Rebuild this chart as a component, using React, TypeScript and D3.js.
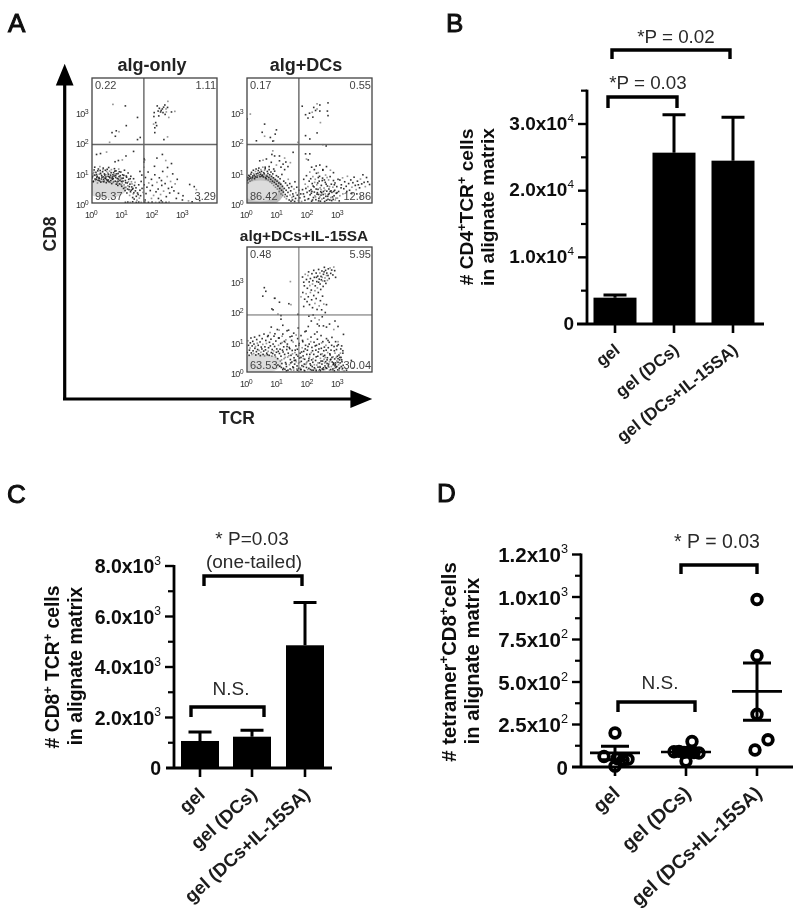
import React from "react";
import * as d3 from "d3";

const FONT = "'Liberation Sans', Arial, sans-serif";

// ---------- Panel A: flow plots, values are log10(fluorescence) x 100, as flat x,y lists ----------
const algOnlyEvents = [
  69,325,110,320,150,282,113,255,89,235,80,238,66,232,77,220,58,200,150,209,159,216,
  215,320,250,335,240,323,226,300,234,298,245,300,218,303,205,298,262,300,273,302,249,315,232,310,241,292,253,282,220,287,204,285,210,265,203,260,207,248,213,255,207,232,249,218,237,209,228,305,236,316,244,310,222,312,
  15,160,28,163,48,168,137,170,112,155,87,140,100,142,76,136,172,146,171,135,
  3,97,1,83,7,109,5,72,11,91,9,118,14,78,13,101,18,66,17,88,21,112,20,75,24,95,23,84,27,107,29,69,26,120,32,90,31,79,35,103,34,71,38,86,37,115,41,96,40,74,44,108,43,82,47,67,46,93,50,111,49,77,53,88,52,99,56,70,55,117,59,83,58,105,62,74,61,92,65,64,64,110,68,86,67,78,71,100,70,68,74,113,73,89,77,72,76,95,80,62,79,106,83,81,82,70,86,97,85,58,89,87,88,112,92,74,91,63,95,102,94,84,98,55,97,71,101,93,100,66,104,48,103,82,107,108,106,60,110,74,109,41,113,89,112,52,116,66,115,33,119,99,118,57,122,44,121,78,125,62,124,25,128,88,127,37,131,53,130,70,134,18,133,45,137,80,136,30,140,58,139,13,143,40,142,68,146,22,145,50,150,33,148,9,154,60,152,28,158,42,156,16,162,71,160,24,165,48,168,35,164,92,158,104,
  2,88,6,101,10,79,15,94,19,106,22,82,25,73,28,98,33,85,36,110,39,70,42,92,45,80,48,104,51,73,54,95,57,86,60,68,63,100,66,82,69,93,72,71,75,105,78,84,81,96,84,66,87,79,90,103,93,90,96,60,99,81,102,72,105,91,108,51,111,67,114,85,117,46,120,70,123,54,126,80,129,42,132,63,135,48,138,34,
  4,70,12,74,8,92,16,84,24,80,30,94,38,78,46,86,54,76,62,88,70,80,78,90,86,72,94,78,
  176,84,181,52,178,31,187,66,192,41,185,102,196,78,203,25,199,58,207,93,211,37,214,68,218,46,206,121,222,83,226,28,219,15,230,58,233,104,236,39,229,74,241,64,245,21,248,87,252,48,249,117,256,33,259,71,263,52,266,96,270,40,274,63,278,15,281,78,285,32,243,140,232,160,214,148,262,130,171,118,173,142,172,60,175,10,196,15,228,8,300,24,298,10,318,7,330,4,337,54,322,61,344,44,355,8,
  110,2,118,3,126,2,134,4,146,2,154,3,162,2,174,3,186,2,198,3,210,2,222,2,232,3,244,2,254,3,
];
const algDcsEvents = [
  11,293,0,277,58,260,50,233,58,220,97,241,93,227,77,216,88,205,31,205,85,204,
  182,319,231,327,240,323,267,330,206,296,215,299,193,291,201,280,217,283,231,310,240,303,265,303,267,288,242,265,231,231,193,222,207,211,250,192,261,188,220,315,226,305,
  85,172,82,160,91,155,107,155,124,148,119,128,107,139,42,139,53,141,64,145,80,134,152,167,168,200,124,110,135,120,128,135,97,125,112,118,88,112,73,120,143,133,60,118,
  193,162,207,162,196,145,202,142,213,118,228,122,235,100,250,108,240,125,262,120,275,108,285,100,222,110,
  1,75,4,66,3,84,7,79,6,91,10,72,9,88,13,95,12,82,16,76,15,101,19,89,18,83,22,97,21,108,25,80,24,92,28,104,27,86,31,96,30,112,34,90,33,85,37,107,36,98,40,93,39,115,43,87,42,101,46,110,45,95,49,89,48,104,52,118,51,92,55,100,54,86,58,108,57,96,61,84,60,113,64,92,63,80,67,104,66,88,70,76,69,97,73,110,72,84,76,70,75,93,79,102,78,78,82,65,81,88,85,96,84,72,88,58,87,83,91,105,90,68,94,52,93,77,97,90,96,62,100,46,99,72,103,86,102,56,106,38,105,66,109,80,108,48,112,30,111,62,115,94,114,42,118,25,117,55,121,72,120,36,124,20,123,48,127,66,126,28,130,14,129,42,133,58,132,22,136,78,135,35,139,10,138,50,142,26,141,64,145,6,144,40,148,18,147,54,151,30,150,10,155,46,153,22,158,70,157,5,161,34,160,15,164,52,166,26,169,8,171,42,174,17,177,30,180,5,
  183,44,187,78,189,21,192,62,191,9,196,90,198,35,201,54,203,14,205,72,208,27,207,102,211,44,213,6,215,64,217,87,219,18,222,36,221,53,225,78,227,11,229,98,231,29,230,60,234,45,236,7,238,72,240,20,239,88,243,37,245,58,247,13,249,82,251,28,250,110,254,49,256,5,258,68,260,22,259,92,263,39,265,56,267,12,269,76,271,31,270,46,274,87,276,18,278,62,280,35,279,8,283,52,285,74,287,24,289,42,291,10,290,66,294,32,296,54,298,16,300,78,302,38,304,7,306,24,310,50,
  212,32,218,56,224,24,228,46,233,66,237,15,241,50,246,34,248,74,253,16,257,42,261,62,262,9,268,28,272,54,277,40,282,20,288,60,293,16,297,34,186,30,194,48,200,12,206,40,210,80,216,10,223,68,235,84,242,6,255,76,264,84,273,10,286,38,
  214,38,226,20,232,34,244,26,252,38,258,30,266,22,274,38,284,12,244,44,236,28,
  306,76,311,60,315,83,319,47,322,70,327,55,331,88,335,64,338,42,342,76,346,52,349,67,353,85,357,58,360,44,364,72,367,60,371,50,374,79,378,63,382,93,386,68,390,54,394,84,398,70,404,61,316,30,329,38,345,31,362,30,375,20,
];
const algDcsIl15Events = [
  143,298,57,278,62,266,52,250,90,243,92,243,107,230,138,225,145,222,168,190,82,208,86,205,102,191,112,186,
  183,313,187,296,192,322,196,305,189,284,199,276,201,318,205,297,203,330,209,308,207,285,212,270,214,324,217,301,216,290,220,335,222,312,225,284,224,268,228,326,230,298,233,316,232,277,236,338,238,306,241,290,240,326,244,315,243,272,247,333,249,300,252,322,251,282,255,345,257,310,260,292,259,335,263,326,265,302,268,340,267,318,271,308,274,343,276,325,279,336,283,320,286,346,289,334,292,312,256,300,248,312,236,296,229,312,245,304,262,318,254,330,
  184,262,190,240,195,258,198,232,202,248,206,222,209,262,213,238,216,212,220,252,224,226,228,242,231,206,235,262,238,218,242,235,246,205,249,250,253,224,258,196,262,222,187,216,178,248,
  204,184,212,168,218,188,224,178,232,158,238,152,248,182,238,172,252,152,262,148,272,158,286,140,290,168,300,150,318,124,300,100,312,86,112,174,118,154,106,138,132,136,100,140,92,126,116,118,80,148,70,120,148,118,126,98,104,112,
  1,64,5,88,3,103,8,72,7,55,11,96,10,79,14,63,13,112,17,86,16,58,20,70,19,101,23,92,22,61,26,78,25,115,29,56,28,84,32,107,31,67,35,74,34,95,38,60,37,88,41,120,40,71,44,54,43,99,47,82,46,65,50,110,49,76,53,58,52,91,56,125,55,69,59,83,58,53,62,104,61,73,65,62,64,94,68,117,67,57,71,80,70,68,74,98,73,55,77,86,76,130,80,64,79,108,83,74,82,52,86,92,85,61,89,118,88,70,92,56,91,84,95,102,94,50,98,76,97,65,
  101,44,104,88,102,23,107,61,106,112,110,36,109,75,113,15,112,52,116,97,115,28,119,66,118,125,122,44,121,83,125,9,124,58,128,106,127,31,131,74,130,18,134,49,133,92,137,138,136,62,140,24,139,81,143,41,142,116,146,7,145,55,149,71,148,33,152,99,151,17,155,47,154,128,158,64,157,26,161,86,160,39,164,10,163,57,167,110,166,75,170,29,169,145,173,46,172,94,176,13,175,62,179,35,178,120,182,80,181,21,185,53,184,100,188,6,187,68,191,133,190,42,194,25,193,88,197,58,196,15,200,108,199,72,203,37,202,150,206,49,205,92,209,8,208,27,212,64,211,115,215,18,214,81,218,44,217,32,221,98,220,58,224,11,223,125,227,72,226,38,230,23,229,88,233,52,232,108,236,5,235,66,239,30,238,92,242,45,241,16,245,78,244,120,248,60,247,26,251,8,250,100,254,42,253,70,257,20,256,55,260,88,259,34,263,12,262,110,266,64,265,47,269,26,268,80,272,6,271,98,275,40,274,56,278,18,277,72,281,33,280,114,284,50,283,10,287,84,286,27,290,62,289,43,293,15,292,100,296,36,295,74,299,7,298,52,302,24,301,90,305,40,304,12,308,62,307,30,311,18,310,48,314,8,313,34,317,22,316,70,320,4,
  103,68,108,19,111,94,114,40,117,72,120,12,123,101,126,48,129,26,132,84,135,6,138,54,141,77,144,30,147,104,150,60,153,14,156,38,159,72,162,122,165,20,168,52,171,88,174,32,177,8,180,66,183,104,186,44,189,26,192,76,195,135,198,34,201,84,204,12,207,58,210,100,213,40,216,70,219,6,222,24,225,86,228,50,231,132,234,30,237,76,240,8,243,58,246,96,249,36,252,14,255,82,258,48,261,72,264,28,267,104,270,16,273,60,276,42,279,88,282,6,285,30,288,70,291,24,294,48,297,86,300,32,303,56,306,14,309,76,312,40,315,12,
  240,18,244,36,248,10,252,52,256,30,260,14,264,40,268,20,272,34,276,8,280,48,284,24,288,12,292,30,296,18,300,44,304,6,290,20,306,48,222,14,228,8,234,16,210,22,204,44,196,30,186,18,178,48,170,12,162,34,
  118,8,130,4,142,10,154,6,166,6,178,8,190,4,200,8,214,6,228,4,242,4,256,8,288,4,328,6,344,38,350,14,316,62,
];
const flowPlots = ["alg-only", "alg+DCs", "alg+DCs+IL-15SA"];
const flowEvents = [algOnlyEvents, algDcsEvents, algDcsIl15Events];
const flowQuadrants = [
  ["0.22", "1.11", "95.37", "3.29"],
  ["0.17", "0.55", "86.42", "12.86"],
  ["0.48", "5.95", "63.53", "30.04"],
];
const flowDecades = [0, 1, 2, 3];
const flowGateX = [171, 171, 171];
const flowGateY = [193, 193, 188];
// dense regions: centre x,y, half-width, half-height, grey
const flowDense = [
  [[46, 46, 66, 30, "#dadada"]],
  [[46, 40, 76, 54, "#bcbcbc"], [44, 40, 60, 34, "#dcdcdc"]],
  [[46, 28, 68, 32, "#dcdcdc"]],
] as [number, number, number, number, string][][];

// ---------- Panels B, C: bars ----------
const groups = ["gel", "gel (DCs)", "gel (DCs+IL-15SA)"];
const cd4Means = [3950, 25700, 24500];
const cd4Tops = [4350, 31400, 31000];
const cd4Ticks = [0, 10000, 20000, 30000];
const cd4Labels: [string, string][] = [["0", ""], ["1.0x10", "4"], ["2.0x10", "4"], ["3.0x10", "4"]];
const cd4Minor = [5000, 15000, 25000, 35000];
const cd8Means = [1070, 1240, 4860];
const cd8Tops = [1430, 1500, 6550];
const cd8Ticks = [0, 2000, 4000, 6000, 8000];
const cd8Labels: [string, string][] = [["0", ""], ["2.0x10", "3"], ["4.0x10", "3"], ["6.0x10", "3"], ["8.0x10", "3"]];
const cd8Minor = [1000, 3000, 5000, 7000];

// ---------- Panel D: points ----------
const tetPoints = [
  [200, 62, 45, 40, 50, 5],
  [150, 90, 92, 86, 90, 85, 82, 35],
  [985, 655, 310, 100, 160],
];
const tetOffsets = [
  [0, -11, 13, 8, 2, 0],
  [6, -12, -7, -2, 3, 8, 13, 0],
  [0, 0, 0, -2, 11],
];
const tetMeans = [83, 88, 445];
const tetUpper = [122, 100, 612];
const tetLower = [42, 75, 275];
const tetTicks = [0, 250, 500, 750, 1000, 1250];
const tetLabels: [string, string][] = [["0", ""], ["2.5x10", "2"], ["5.0x10", "2"], ["7.5x10", "2"], ["1.0x10", "3"], ["1.2x10", "3"]];
const tetMinor = [125, 375, 625, 875, 1125];

function FlowPlot({ idx, left, top }: { idx: number; left: number; top: number }) {
  const size = 125;
  const x = d3.scaleLinear().domain([0, 412]).range([left, left + size]);
  const y = d3.scaleLinear().domain([0, 412]).range([top + size, top]);
  const ev = flowEvents[idx];
  const pts: [number, number][] = [];
  for (let i = 0; i + 1 < ev.length; i += 2) pts.push([ev[i], ev[i + 1]]);
  const q = flowQuadrants[idx];
  return (
    <g fontFamily={FONT}>
      <clipPath id={`clip${idx}`}>
        <rect x={left} y={top} width={size} height={size} />
      </clipPath>
      <g clipPath={`url(#clip${idx})`}>
        {flowDense[idx].map(([cx, cy, rx, ry, c], k) => (
          <ellipse key={k} cx={x(cx)} cy={y(cy)} rx={x(rx) - x(0)} ry={y(0) - y(ry)} fill={c} />
        ))}
        {pts.map((p, i) => (
          <rect key={i} x={x(p[0]) - 0.8} y={y(p[1]) - 0.8} width={1.6} height={1.6} fill="#111" opacity={i % 4 === 0 ? 0.45 : 0.85} />
        ))}
      </g>
      <line x1={x(flowGateX[idx])} x2={x(flowGateX[idx])} y1={top} y2={top + size} stroke="#666" strokeWidth={idx === 2 ? 1 : 1.4} />
      <line x1={left} x2={left + size} y1={y(flowGateY[idx])} y2={y(flowGateY[idx])} stroke="#666" strokeWidth={idx === 2 ? 1 : 1.4} />
      <rect x={left} y={top} width={size} height={size} fill="none" stroke="#444" strokeWidth={1.3} />
      <g fontSize={11} fill="#444">
        <text x={left + 3} y={top + 11}>{q[0]}</text>
        <text x={left + size - 1} y={top + 11} textAnchor="end">{q[1]}</text>
        <text x={left + 3} y={top + size - 3}>{q[2]}</text>
        <text x={left + size - 1} y={top + size - 3} textAnchor="end">{q[3]}</text>
      </g>
      <g fontSize={9} fill="#333">
        {flowDecades.map((d) => (
          <g key={d}>
            <text x={x(d * 100) - 1} y={top + size + 15} textAnchor="middle" letterSpacing={-0.6}>
              10<tspan dy={-3} fontSize={7}>{d}</tspan>
            </text>
            <text x={left - 4} y={y(d * 100) + 5} textAnchor="end" letterSpacing={-0.6}>
              10<tspan dy={-3} fontSize={7}>{d}</tspan>
            </text>
          </g>
        ))}
      </g>
    </g>
  );
}

function Bracket({ x1, x2, y, drop }: { x1: number; x2: number; y: number; drop: number }) {
  return <path d={`M${x1},${y + drop}V${y}H${x2}V${y + drop}`} fill="none" stroke="#000" strokeWidth={3.4} />;
}

type AxisProps = {
  axisX: number; zeroY: number; x0: number; x1: number; y: d3.ScaleLinear<number, number>;
  ticks: number[]; labels: [string, string][]; minor: number[]; centers: number[]; top: number;
  tickFont: number; tickShift: number; labelFont: number; labelAngle: number;
};

function Axes({ axisX, zeroY, x0, x1, y, ticks, labels, minor, centers, top, tickFont, tickShift, labelFont, labelAngle }: AxisProps) {
  return (
    <g fontFamily={FONT}>
      <line x1={axisX} x2={axisX} y1={top - 1} y2={zeroY} stroke="#000" strokeWidth={2.8} />
      <line x1={x0} x2={x1} y1={zeroY} y2={zeroY} stroke="#000" strokeWidth={2.8} />
      {ticks.map((t, i) => (
        <g key={t}>
          {t !== 0 && <line x1={axisX - 9} x2={axisX} y1={y(t)} y2={y(t)} stroke="#000" strokeWidth={2.4} />}
          <text x={axisX - 13} y={y(t) + tickShift} textAnchor="end" fontSize={tickFont} fontWeight="bold" fill="#111">
            {labels[i][0]}
            {labels[i][1] && <tspan dy={-tickFont * 0.42} fontSize={tickFont * 0.62} fontWeight="normal">{labels[i][1]}</tspan>}
          </text>
        </g>
      ))}
      {minor.map((t) => (
        <line key={t} x1={axisX - 6} x2={axisX} y1={y(t)} y2={y(t)} stroke="#000" strokeWidth={2.2} />
      ))}
      {centers.map((c, i) => (
        <g key={c}>
          <line x1={c} x2={c} y1={zeroY} y2={zeroY + 9} stroke="#000" strokeWidth={2.6} />
          <text transform={`translate(${c + 6},${zeroY + 28}) rotate(${-labelAngle})`} textAnchor="end" fontSize={labelFont} fontWeight="bold" fill="#1a1a1a">
            {groups[i]}
          </text>
        </g>
      ))}
    </g>
  );
}

function Bars({ centers, means, tops, y, width }: { centers: number[]; means: number[]; tops: number[]; y: d3.ScaleLinear<number, number>; width: number }) {
  const capHalf = 11.5;
  return (
    <g>
      {centers.map((c, i) => (
        <g key={c}>
          <path d={`M${c},${y(means[i])}V${y(tops[i])}M${c - capHalf},${y(tops[i])}H${c + capHalf}`} stroke="#000" strokeWidth={3} fill="none" />
          <rect x={c - width / 2} y={y(means[i])} width={width} height={y(0) - y(means[i])} fill="#000" />
        </g>
      ))}
    </g>
  );
}

// title parts: plain strings are normal text, "^x" is a superscript
function YTitle({ x, y, size, parts }: { x: number; y: number; size: number; parts: string[] }) {
  const shift = size * 0.38;
  return (
    <text transform={`translate(${x},${y}) rotate(-90)`} textAnchor="middle" fontFamily={FONT} fontWeight="bold" fontSize={size} fill="#111">
      {parts.map((p, i) => {
        const sup = p.startsWith("^");
        const prevSup = i > 0 && parts[i - 1].startsWith("^");
        const dy = sup ? -shift : prevSup ? shift : 0;
        return (
          <tspan key={i} dy={dy} fontSize={sup ? size * 0.66 : size}>{sup ? p.slice(1) : p}</tspan>
        );
      })}
    </text>
  );
}

function Note({ x, y, size, children }: { x: number; y: number; size: number; children: React.ReactNode }) {
  return <text x={x} y={y} textAnchor="middle" fontFamily={FONT} fontSize={size} fill="#2a2a2a">{children}</text>;
}

export default function App() {
  const yB = d3.scaleLinear().domain([0, 30000]).range([324, 124]);
  const yC = d3.scaleLinear().domain([0, 8000]).range([768, 566]);
  const yD = d3.scaleLinear().domain([0, 1000]).range([767, 597]);
  const centersB = [615, 674, 733];
  const centersC = [200, 252, 305];
  const xD = d3.scalePoint<string>().domain(groups).range([615, 757]);
  const centersD = groups.map((g) => xD(g) as number);

  return (
    <svg width={800} height={920} style={{ position: "absolute", left: 0, top: 0, background: "#fff" }}>
      <defs>
        <filter id="soft" x="0" y="0" width="100%" height="100%">
          <feGaussianBlur stdDeviation={0.45} />
        </filter>
      </defs>
      <g filter="url(#soft)">
        <g fontFamily={FONT} fontSize={26} fill="#111" stroke="#111" strokeWidth={1}>
          <text x={8} y={32}>A</text>
          <text x={446} y={32}>B</text>
          <text x={7} y={503}>C</text>
          <text x={437} y={502}>D</text>
        </g>

        {/* Panel A */}
        <FlowPlot idx={0} left={92} top={78} />
        <FlowPlot idx={1} left={247} top={78} />
        <FlowPlot idx={2} left={247} top={247} />
        <g fontFamily={FONT} fontWeight="bold" fill="#222" textAnchor="middle">
          <text x={152} y={71} fontSize={18}>{flowPlots[0]}</text>
          <text x={306} y={71} fontSize={18}>{flowPlots[1]}</text>
          <text x={304} y={241} fontSize={15.4}>{flowPlots[2]}</text>
          <text x={237} y={424} fontSize={17.5}>TCR</text>
          <text transform="translate(56,234) rotate(-90)" fontSize={17.5}>CD8</text>
        </g>
        <path d="M64.7,400V80M64.7,68l6.5,16h-13zM63,399H355M368,399l-16,6.5v-13z" stroke="#000" strokeWidth={3.2} fill="#000" />

        {/* Panel B */}
        <Bars centers={centersB} means={cd4Means} tops={cd4Tops} y={yB} width={43} />
        <Axes axisX={587} zeroY={324} x0={577} x1={764} y={yB} ticks={cd4Ticks} labels={cd4Labels} minor={cd4Minor} centers={centersB} top={yB(35000)} tickFont={19} tickShift={5.5} labelFont={17} labelAngle={38} />
        <YTitle x={473} y={207} size={19.2} parts={["# CD4", "^+", "TCR", "^+", " cells"]} />
        <YTitle x={494} y={207} size={19.2} parts={["in alignate matrix"]} />
        <Bracket x1={608} x2={677} y={97} drop={11} />
        <Bracket x1={612} x2={730} y={50} drop={9} />
        <Note x={648} y={89} size={18.8}>*P = 0.03</Note>
        <Note x={676} y={43} size={18.8}>*P = 0.02</Note>

        {/* Panel C */}
        <Bars centers={centersC} means={cd8Means} tops={cd8Tops} y={yC} width={38} />
        <Axes axisX={174} zeroY={768} x0={166} x1={332} y={yC} ticks={cd8Ticks} labels={cd8Labels} minor={cd8Minor} centers={centersC} top={yC(8000)} tickFont={19.5} tickShift={7} labelFont={18.5} labelAngle={42} />
        <YTitle x={59} y={667} size={19.3} parts={["# CD8", "^+", " TCR", "^+", " cells"]} />
        <YTitle x={82} y={666} size={19.3} parts={["in alignate matrix"]} />
        <Bracket x1={204} x2={302} y={576} drop={10} />
        <Bracket x1={191} x2={264} y={707} drop={10} />
        <Note x={252} y={545} size={19}>* P=0.03</Note>
        <Note x={254} y={568} size={19}>(one-tailed)</Note>
        <Note x={231} y={695} size={19}>N.S.</Note>

        {/* Panel D */}
        <Axes axisX={581} zeroY={767} x0={572} x1={793} y={yD} ticks={tetTicks} labels={tetLabels} minor={tetMinor} centers={centersD} top={yD(1250)} tickFont={20.5} tickShift={7.5} labelFont={19.3} labelAngle={42} />
        {centersD.map((c, i) => (
          <g key={c} fill="none" stroke="#000">
            {tetPoints[i].map((v, j) => (
              <circle key={j} cx={c + tetOffsets[i][j]} cy={yD(v)} r={4.8} strokeWidth={3.8} />
            ))}
            <path d={`M${c},${yD(tetUpper[i])}V${yD(tetLower[i])}M${c - 14},${yD(tetUpper[i])}H${c + 14}M${c - 14},${yD(tetLower[i])}H${c + 14}`} strokeWidth={3} />
            <line x1={c - 25} x2={c + 25} y1={yD(tetMeans[i])} y2={yD(tetMeans[i])} strokeWidth={2.6} />
          </g>
        ))}
        <YTitle x={456} y={662} size={20.3} parts={["# tetramer", "^+", "CD8", "^+", "cells"]} />
        <YTitle x={479} y={661} size={20.3} parts={["in alignate matrix"]} />
        <Bracket x1={681} x2={757} y={565} drop={9} />
        <Bracket x1={618} x2={695} y={702} drop={10} />
        <Note x={717} y={548} size={19.5}>* P = 0.03</Note>
        <Note x={660} y={689} size={19}>N.S.</Note>
      </g>
    </svg>
  );
}
